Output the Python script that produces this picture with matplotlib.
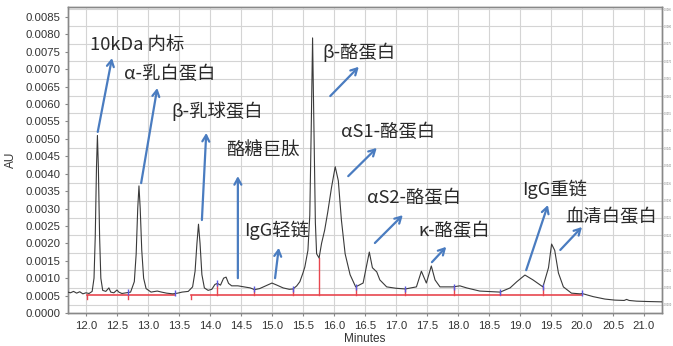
import numpy as np
import matplotlib
matplotlib.use("Agg")
import matplotlib.pyplot as plt

# chromatogram trace (minutes, AU)
time_min = [11.71, 11.75, 11.80, 11.85, 11.90, 11.95, 12.00, 12.05, 12.10, 12.13,
            12.15, 12.17, 12.185, 12.20, 12.22, 12.24, 12.27, 12.32, 12.37, 12.40,
            12.45, 12.50, 12.53, 12.58, 12.65, 12.72, 12.78, 12.81, 12.835, 12.855,
            12.875, 12.90, 12.93, 12.97, 13.05, 13.15, 13.22, 13.30, 13.40, 13.48,
            13.55, 13.65, 13.72, 13.76, 13.79, 13.815, 13.84, 13.87, 13.91, 13.97,
            14.03, 14.08, 14.12, 14.17, 14.22, 14.26, 14.30, 14.35, 14.45, 14.55,
            14.65, 14.72, 14.80, 14.90, 15.00, 15.08, 15.18, 15.28, 15.34, 15.40,
            15.45, 15.50, 15.53, 15.58, 15.61, 15.635, 15.655, 15.675, 15.70, 15.72,
            15.76, 15.80, 15.85, 15.90, 15.96, 16.02, 16.07, 16.12, 16.18, 16.26,
            16.35, 16.47, 16.52, 16.57, 16.62, 16.69, 16.74, 16.85, 17.00, 17.15,
            17.33, 17.41, 17.49, 17.57, 17.63, 17.71, 17.92, 18.03, 18.14, 18.35,
            18.68, 18.84, 18.95, 19.08, 19.21, 19.37, 19.46, 19.51, 19.56, 19.62,
            19.70, 19.83, 19.97, 20.00, 20.18, 20.37, 20.53, 20.68, 20.72, 20.76,
            20.88, 21.05, 21.29]
absorb = [0.00060, 0.00058, 0.00062, 0.00057, 0.00061, 0.00055, 0.00058, 0.00056, 0.00062, 0.00100,
          0.00220, 0.00420, 0.00510, 0.00420, 0.00220, 0.00100, 0.00065, 0.00062, 0.00072, 0.00060,
          0.00058, 0.00066, 0.00060, 0.00056, 0.00058, 0.00060, 0.00090, 0.00170, 0.00300, 0.00365,
          0.00300, 0.00180, 0.00100, 0.00070, 0.00060, 0.00063, 0.00060, 0.00057, 0.00055, 0.00057,
          0.00060, 0.00062, 0.00075, 0.00120, 0.00200, 0.00255, 0.00200, 0.00110, 0.00072, 0.00065,
          0.00068, 0.00082, 0.00085, 0.00080, 0.00100, 0.00103, 0.00085, 0.00078, 0.00078, 0.00075,
          0.00072, 0.00067, 0.00070, 0.00078, 0.00086, 0.00080, 0.00072, 0.00068, 0.00069, 0.00078,
          0.00090, 0.00115, 0.00132, 0.00180, 0.00280, 0.00550, 0.00790, 0.00550, 0.00260, 0.00170,
          0.00158, 0.00200, 0.00238, 0.00290, 0.00360, 0.00420, 0.00380, 0.00267, 0.00170, 0.00110,
          0.00075, 0.00086, 0.00130, 0.00175, 0.00130, 0.00118, 0.00095, 0.00075, 0.00071, 0.00069,
          0.00075, 0.00120, 0.00086, 0.00135, 0.00095, 0.00075, 0.00075, 0.00078, 0.00072, 0.00063,
          0.00060, 0.00072, 0.00090, 0.00109, 0.00095, 0.00075, 0.00130, 0.00198, 0.00180, 0.00115,
          0.00075, 0.00057, 0.00055, 0.00056, 0.00047, 0.00040, 0.00037, 0.00036, 0.00039, 0.00036,
          0.00034, 0.00033, 0.00032]

# integration marks
baseline_au = 0.00053
base_segments = [(12.02, 13.44), (13.70, 20.00)]
drop_times = [14.12, 14.71, 15.34, 15.76, 16.35, 17.15, 17.94, 18.68, 19.37]
down_ticks = [12.02, 12.68, 13.70]
blue_ticks = [12.68, 13.44, 14.12, 14.71, 15.34, 16.35, 17.15, 17.94, 18.68, 19.37, 20.00]

# peak labels: text, text pos (t, AU), arrow tail, arrow head
labels = ["10kDa 内标", "α-乳白蛋白", "β-乳球蛋白", "酪糖巨肽", "IgG轻链", "β-酪蛋白",
          "αS1-酪蛋白", "αS2-酪蛋白", "κ-酪蛋白", "IgG重链", "血清白蛋白"]
label_pos = [(12.06, 0.00770), (12.61, 0.00686), (13.37, 0.00580), (14.26, 0.00465),
             (14.55, 0.00238), (15.82, 0.00750), (16.12, 0.00521), (16.53, 0.00330),
             (17.36, 0.00236), (19.03, 0.00356), (19.73, 0.00277)]
arrow_tail = [(12.19, 0.00520), (12.89, 0.00373), (13.87, 0.00267), (14.45, 0.00100),
              (15.05, 0.00100), (15.94, 0.00623), (16.23, 0.00393), (16.66, 0.00201),
              (17.58, 0.00146), (19.10, 0.00123), (19.65, 0.00181)]
arrow_head = [(12.42, 0.00732), (13.15, 0.00646), (13.94, 0.00517), (14.45, 0.00393),
              (15.11, 0.00187), (16.40, 0.00707), (16.69, 0.00474), (17.11, 0.00281),
              (17.81, 0.00190), (19.45, 0.00310), (20.00, 0.00247)]

x_ticks = np.arange(12.0, 21.01, 0.5)
y_ticks = np.arange(0, 0.00851, 0.0005)
right_ticks = np.arange(0.00023, 0.0088, 0.0005)

plt.rcParams["font.family"] = ["Liberation Sans", "DejaVu Sans"]
cjk = ["Noto Sans CJK SC", "DejaVu Sans"]

fig = plt.figure(figsize=(6.73, 3.46), dpi=100)
ax = fig.add_axes([0.101, 0.0954, 0.8826, 0.8846])
ax.set_xlim(11.71, 21.29)
ax.set_ylim(0, 0.00879)

# grid follows the right hand axis in the original
ax2 = ax.twinx()
ax2.set_ylim(ax.get_ylim())
ax2.set_yticks(right_ticks)
ax2.set_yticklabels(["%.4f" % v for v in y_ticks], fontsize=1.8, color="#777777")
ax2.tick_params(axis="y", length=1, width=0.4, pad=0.5, colors="#999999", labelcolor="#777777")
ax2.grid(True, color="#d4d4d4", lw=0.8)
ax2.set_axisbelow(True)
ax2.set_zorder(0)
ax.set_zorder(1)
ax.patch.set_visible(False)

ax.set_xticks(x_ticks)
ax.set_xticklabels(["%.1f" % v for v in x_ticks])
ax.set_yticks(y_ticks)
ax.set_yticklabels(["%.4f" % v for v in y_ticks])
ax.tick_params(labelsize=8.2, length=2, color="#888888", labelcolor="#333333")
ax.grid(True, axis="x", color="#d4d4d4", lw=0.8)
for a in (ax, ax2):
    for s in a.spines.values():
        s.set_color("#888888")
        s.set_linewidth(1.0)

ax.plot(time_min, absorb, color="#3a3a3a", lw=0.8, zorder=3)

red = "#e8474f"
for t0, t1 in base_segments:
    ax.plot([t0, t1], [baseline_au, baseline_au], color=red, lw=1.2, zorder=2)
for t in drop_times:
    ax.plot([t, t], [baseline_au, np.interp(t, time_min, absorb)], color=red, lw=1.0, zorder=2)
for t in down_ticks:
    ax.plot([t, t], [baseline_au, baseline_au - 0.00012], color=red, lw=1.0, zorder=2)
bt = np.interp(blue_ticks, time_min, absorb)
ax.plot(blue_ticks, bt, ls="none", marker="|", ms=5, mew=1.0, color="#5a5ae0", zorder=4)

for txt, (tx, ty), tail, head in zip(labels, label_pos, arrow_tail, arrow_head):
    ax.text(tx, ty, txt, family=cjk, fontsize=13.2, color="#2a2a2a", va="center", ha="left", zorder=5)
    ax.annotate("", xy=head, xytext=tail,
                arrowprops=dict(arrowstyle="->,head_length=0.45,head_width=0.25",
                                color="#4a7cc0", lw=1.6, shrinkA=0, shrinkB=0), zorder=5)

ax.set_xlabel("Minutes", fontsize=8.5, color="#333333", labelpad=2)
ax.set_ylabel("AU", fontsize=8.5, color="#333333", labelpad=6)

fig.savefig("out.png", dpi=100)
